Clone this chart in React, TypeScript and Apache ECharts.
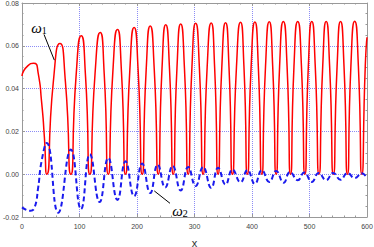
import React, { useEffect, useRef } from "react";
import * as echarts from "echarts";

// ω1 (red, solid): [x, value]
const omega1: [number, number][] = [
  [0, 0.0459], [10, 0.0506], [20, 0.0518], [28, 0.0475], [34, 0.034], [39, 0.017], [43, 0],
  [54.5, 0.0432], [66, 0.0611], [75.5, 0.0432], [85, 0],
  [94, 0.0457], [103, 0.0647], [110.5, 0.0457], [118, 0],
  [127, 0.0468], [136, 0.0662], [143, 0.0468], [150, 0],
  [158, 0.0478], [166, 0.0676], [173, 0.0478], [180, 0],
  [187.5, 0.0484], [195, 0.0685], [202, 0.0484], [209, 0],
  [216, 0.049], [223, 0.0693], [230, 0.049], [237, 0],
  [243.5, 0.0494], [250, 0.0698], [256.5, 0.0494], [263, 0],
  [269.5, 0.0496], [276, 0.0702], [282.5, 0.0496], [289, 0],
  [295.5, 0.0498], [302, 0.0705], [308.5, 0.0498], [315, 0],
  [322, 0.05], [329, 0.0707], [335, 0.05], [341, 0],
  [347.5, 0.05], [354, 0.0708], [360, 0.05], [366, 0],
  [373, 0.0502], [380, 0.071], [386, 0.0502], [392, 0],
  [398.5, 0.0503], [405, 0.0711], [411, 0.0503], [417, 0],
  [423.5, 0.0503], [430, 0.0712], [436, 0.0503], [442, 0],
  [448, 0.0504], [454.5, 0.0713], [461, 0.0504], [467, 0],
  [473, 0.0504], [479.5, 0.0713], [486, 0.0504], [492, 0],
  [498, 0.0505], [504, 0.0714], [510, 0.0505], [516.5, 0],
  [523, 0.0505], [529, 0.0714], [535, 0.0505], [541.5, 0],
  [548, 0.0505], [554, 0.0714], [560, 0.0505], [566, 0],
  [572, 0.0506], [578.6, 0.0715], [585, 0.0506], [591, 0],
  [597, 0.0506], [600, 0.064],
];

// ω2 (blue, dashed): [x, value]
const omega2: [number, number][] = [
  [0, -0.0155], [8, -0.0167], [15, -0.0171], [22, -0.0155], [28, -0.0065], [34, 0.006], [43, 0.0146],
  [63, -0.018], [85, 0.0115], [102.6, -0.0163], [118, 0.0093], [135, -0.013],
  [150, 0.0076], [166, -0.012], [180, 0.006], [195, -0.0103], [209, 0.005],
  [223, -0.0088], [236, 0.0045], [249, -0.0062], [262, 0.0039], [276, -0.0076],
  [289, 0.0034], [302, -0.0055], [315, 0.0034], [329, -0.0064], [341, 0.003],
  [354, -0.0048], [366, 0.0022], [380, -0.0038], [392, 0.0019], [405, -0.0045],
  [417, 0.0019], [430, -0.0036], [442, 0.0015], [455, -0.004], [466, 0.0011],
  [479.5, -0.0028], [491, 0.0008], [504, -0.0036], [516, 0.0006], [529, -0.0028],
  [541, 0.0006], [554, -0.0026], [566, 0.0006], [578.6, -0.0018], [591, 0.0004],
  [600, -0.002],
];

// Annotations (data coordinates)
const label1Pos: [number, number] = [29.6, 0.0684];
const arrow1: [number, number][] = [[38.3, 0.0653], [56.2, 0.0533]];
const label2Pos: [number, number] = [274.8, -0.0172];
const arrow2: [number, number][] = [[257.4, -0.0136], [230, -0.0078]];

const xMin = 0, xMax = 600, xStep = 100;
const yMin = -0.02, yMax = 0.08, yStep = 0.02;

const frameColor = "#999";
const gridColor = "#8c8cf5";
const labelColor = "#444";

export default function App() {
  const ref = useRef<HTMLDivElement>(null);
  useEffect(() => {
    if (!ref.current) return;
    const chart = echarts.init(ref.current, undefined, { renderer: "svg" });
    const rich = {
      w: { fontSize: 15, fontStyle: "italic", fontFamily: "Liberation Serif", color: "#000", verticalAlign: "top", lineHeight: 15 },
      s: { fontSize: 10, fontFamily: "Liberation Serif", color: "#000", verticalAlign: "bottom", lineHeight: 10, padding: [6, 0, 0, 0] },
    };
    const arrowLine = (pts: [number, number][]) => ({
      silent: true,
      symbol: ["none", "arrow"],
      symbolSize: [0, 7],
      label: { show: false },
      lineStyle: { color: "#000", width: 1, type: "solid", opacity: 1 },
      itemStyle: { color: "#000" },
      emphasis: { disabled: true },
      data: [[{ coord: pts[0] }, { coord: pts[1] }]],
    });
    const labelPoint = (pos: [number, number], sub: string) => ({
      silent: true,
      symbol: "rect",
      symbolSize: 1,
      itemStyle: { color: "rgba(0,0,0,0)" },
      label: { show: true, position: "inside", formatter: `{w|ω}{s|${sub}}`, rich },
      emphasis: { disabled: true },
      data: [{ coord: pos }],
    });
    const frameAxisCommon = {
      axisLine: { show: true, lineStyle: { color: frameColor, width: 1 } },
      axisLabel: { show: false },
      splitLine: { show: false },
      axisTick: { show: true, inside: true, length: 3, lineStyle: { color: frameColor } },
      minorTick: { show: true, length: 1.5, lineStyle: { color: frameColor } },
    };
    chart.setOption({
      animation: false,
      backgroundColor: "#fff",
      grid: { left: 22, right: 7, top: 3, bottom: 30, containLabel: false, outerBoundsMode: "none" },
      xAxis: [
        {
          type: "value", min: xMin, max: xMax, interval: xStep, position: "bottom",
          name: "x", nameLocation: "middle", nameGap: 20,
          nameTextStyle: { fontSize: 11, color: "#333", fontFamily: "Liberation Sans" },
          axisLine: { show: true, onZero: false, lineStyle: { color: frameColor, width: 1 } },
          axisTick: { show: true, inside: true, length: 3, lineStyle: { color: frameColor } },
          minorTick: { show: true, splitNumber: 5, length: 1.5, lineStyle: { color: frameColor } },
          axisLabel: { fontSize: 7, color: labelColor, margin: 6, fontFamily: "Liberation Sans" },
          splitLine: { show: true, lineStyle: { color: gridColor, type: "dotted", width: 1 } },
        },
        {
          type: "value", min: xMin, max: xMax, interval: xStep, position: "top",
          ...frameAxisCommon,
          axisLine: { show: true, onZero: false, lineStyle: { color: frameColor, width: 1 } },
          minorTick: { show: true, splitNumber: 5, length: 1.5, lineStyle: { color: frameColor } },
        },
      ],
      yAxis: [
        {
          type: "value", min: yMin, max: yMax, interval: yStep, position: "left",
          axisLine: { show: true, onZero: false, lineStyle: { color: frameColor, width: 1 } },
          axisTick: { show: true, inside: true, length: 3, lineStyle: { color: frameColor } },
          minorTick: { show: true, splitNumber: 4, length: 1.5, lineStyle: { color: frameColor } },
          axisLabel: {
            fontSize: 7, color: labelColor, margin: 3, fontFamily: "Liberation Sans",
            formatter: (v: number) => v.toFixed(2),
          },
          splitLine: { show: true, lineStyle: { color: gridColor, type: "dotted", width: 1 } },
        },
        {
          type: "value", min: yMin, max: yMax, interval: yStep, position: "right",
          ...frameAxisCommon,
          axisLine: { show: true, onZero: false, lineStyle: { color: frameColor, width: 1 } },
          minorTick: { show: true, splitNumber: 4, length: 1.5, lineStyle: { color: frameColor } },
        },
      ],
      series: [
        {
          name: "ω1", type: "line", data: omega1, xAxisIndex: 0, yAxisIndex: 0,
          showSymbol: false, smooth: 0.7, clip: true,
          lineStyle: { color: "#ff0000", width: 1.5 },
          emphasis: { disabled: true },
          markLine: arrowLine(arrow1),
          markPoint: labelPoint(label1Pos, "1"),
        },
        {
          name: "ω2", type: "line", data: omega2, xAxisIndex: 0, yAxisIndex: 0,
          showSymbol: false, smooth: 0.5, clip: true,
          lineStyle: { color: "#1a1aee", width: 2, type: [5, 3] },
          emphasis: { disabled: true },
          markLine: arrowLine(arrow2),
          markPoint: labelPoint(label2Pos, "2"),
        },
      ],
    });
    return () => chart.dispose();
  }, []);
  return <div ref={ref} style={{ position: "absolute", left: 0, top: 0, width: 374, height: 247 }} />;
}
